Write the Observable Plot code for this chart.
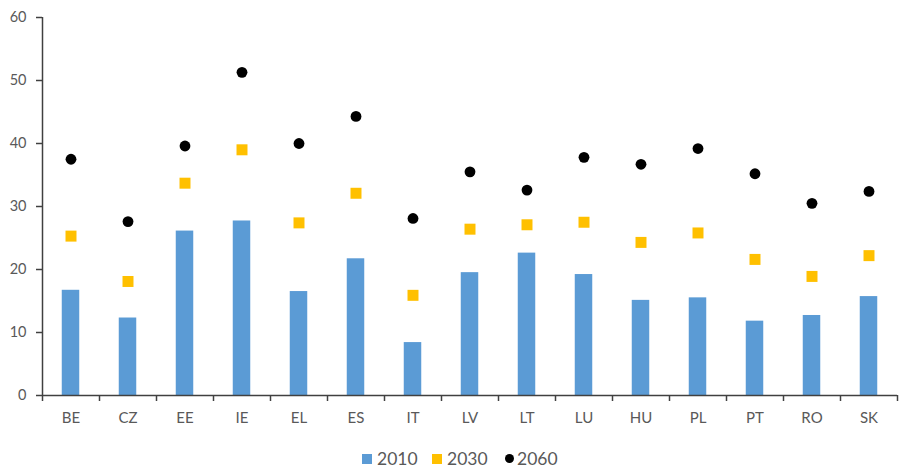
<!DOCTYPE html>
<html>
<head>
<meta charset="utf-8">
<script src="https://cdn.jsdelivr.net/npm/d3@7"></script>
<script src="https://cdn.jsdelivr.net/npm/@observablehq/plot@0.6"></script>
<style>
  body { margin: 0; background: #fff; font-family: Lato, "Open Sans", sans-serif; overflow: hidden; }
  #chart svg { display: block; }
  #legend { position: relative; height: 28px; font-size: 17.5px; color: #595959; }
  #legend .item { position: absolute; top: 10px; height: 17.5px; display: flex; align-items: center; }
  #legend .item span { display: inline-block; line-height: 1; }
  #legend .sw { width: 10px; height: 10px; margin-right: 5px; }
  #legend .dotsw { width: 9px; height: 9px; border-radius: 50%; margin-right: 3px; }
</style>
</head>
<body>
<div id="chart"></div>
<div id="legend"></div>
<script>
// Country codes along the category axis
const countries = ["BE", "CZ", "EE", "IE", "EL", "ES", "IT", "LV", "LT", "LU", "HU", "PL", "PT", "RO", "SK"];
// Values per year
const v2010 = [16.7, 12.3, 26.1, 27.7, 16.5, 21.7, 8.4, 19.5, 22.6, 19.2, 15.1, 15.5, 11.8, 12.7, 15.7];
const v2030 = [25.3, 18.1, 33.7, 39.0, 27.4, 32.1, 15.9, 26.4, 27.1, 27.5, 24.3, 25.8, 21.6, 18.9, 22.2];
const v2060 = [37.5, 27.6, 39.6, 51.3, 40.0, 44.3, 28.1, 35.5, 32.6, 37.8, 36.7, 39.2, 35.2, 30.5, 32.4];
const yTicks = [0, 10, 20, 30, 40, 50, 60];
const series = ["2010", "2030", "2060"];
const colors = { "2010": "#5B9BD5", "2030": "#FFC000", "2060": "#000000" };

const rows = countries.map((c, i) => ({ country: c, v2010: v2010[i], v2030: v2030[i], v2060: v2060[i] }));

const W = 899, H = 440, ML = 42, MR = 2;
const step = (W - ML - MR) / countries.length;
const axisColor = "#404040";

const chart = Plot.plot({
  width: W,
  height: H,
  marginTop: 17,
  marginBottom: 45,
  marginLeft: ML,
  marginRight: MR,
  style: { fontFamily: "Lato, 'Open Sans', sans-serif", fontSize: "14.5px", color: "#595959", background: "#fff" },
  x: { domain: countries, padding: 0, label: null },
  y: { domain: [0, 60], label: null },
  marks: [
    Plot.barY(rows, { x: "country", y: "v2010", fill: colors["2010"], insetLeft: 19.75, insetRight: 19.75 }),
    Plot.dot(rows, { x: "country", y: "v2030", symbol: "square", r: 6.2, fill: colors["2030"], stroke: null }),
    Plot.dot(rows, { x: "country", y: "v2060", symbol: "circle", r: 5.4, fill: colors["2060"], stroke: null }),
    // y axis: line, outward ticks and labels
    Plot.ruleX([countries[0]], { x: d => d, y1: 0, y2: 60, dx: -step / 2, stroke: axisColor, strokeWidth: 1.5 }),
    Plot.axisY({ ticks: yTicks, tickSize: 6, tickPadding: 10, stroke: axisColor, strokeWidth: 1.5, fill: "#595959", label: null }),
    // x axis: baseline, tick marks at category boundaries and centred labels
    Plot.ruleY([0], { stroke: axisColor, strokeWidth: 1.5 }),
    Plot.axisX(countries, { tickSize: 6, tickFormat: () => "", dx: -step / 2, stroke: axisColor, strokeWidth: 1.5, label: null }),
    Plot.axisX([countries[countries.length - 1]], { tickSize: 6, tickFormat: () => "", dx: step / 2, stroke: axisColor, strokeWidth: 1.5, label: null }),
    Plot.axisX(countries, { tickSize: 0, tickPadding: 17, fill: "#595959", fontSize: 15, label: null })
  ]
});
document.getElementById("chart").append(chart);

// Legend under the chart
const legendLeft = { "2010": 362, "2030": 432, "2060": 505 };
const legend = d3.select("#legend");
series.forEach(s => {
  const item = legend.append("div").attr("class", "item").style("left", legendLeft[s] + "px");
  item.append("div").attr("class", s === "2060" ? "dotsw" : "sw").style("background", colors[s]);
  item.append("span").text(s);
});
</script>
</body>
</html>
